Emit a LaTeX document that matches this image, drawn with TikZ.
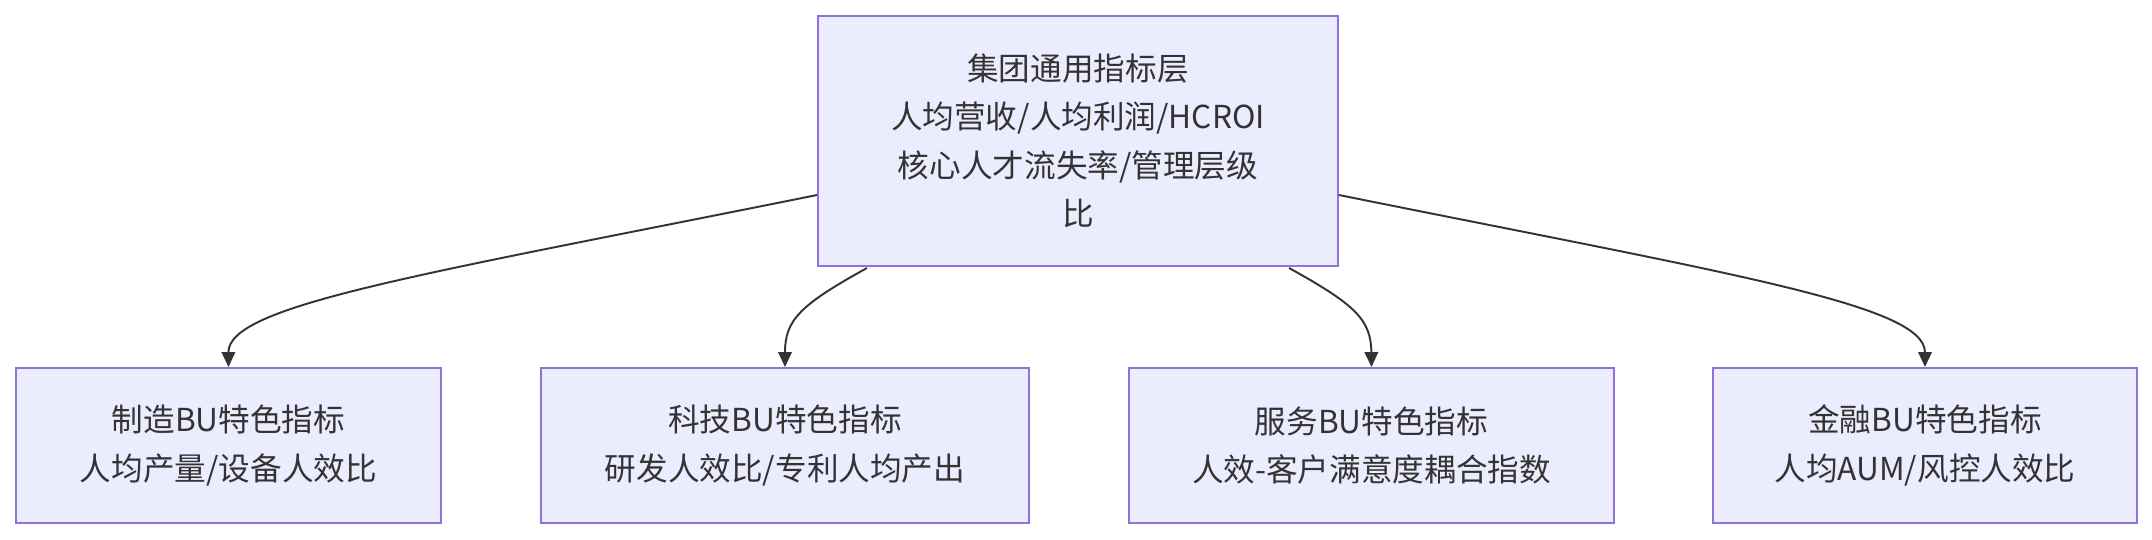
\documentclass[tikz,border=0pt]{standalone}
\usepackage{fontspec}
\setmainfont{Noto Sans CJK SC}
\usepackage{xcolor}
\usetikzlibrary{arrows.meta,positioning}
\definecolor{NodeFill}{HTML}{ECECFF}
\definecolor{NodeLine}{HTML}{9370DB}
\definecolor{InkGray}{HTML}{333333}
\begin{document}
\begin{tikzpicture}[x=0.02cm,y=-0.02cm,
    every node/.style={font=\fontsize{18}{27.6}\selectfont,text=InkGray},
    metric/.style={draw=NodeLine,line width=1.1pt,fill=NodeFill,align=center,inner sep=0pt,minimum height=3.1cm},
    link/.style={draw=InkGray,line width=1.1pt,-{Triangle[length=0.3cm,width=0.27cm]}}]
  \useasboundingbox (0,0) rectangle (2152,540);
  \node[metric,minimum width=10.4cm,minimum height=5cm] (G) at (1078,141) {集团通用指标层\\人均营收/人均利润/HCROI\\核心人才流失率/管理层级\\比};
  \node[metric,minimum width=8.5cm] (M) at (228.5,445.5) {制造BU特色指标\\人均产量/设备人效比};
  \node[metric,minimum width=9.76cm] (T) at (785,445.5) {科技BU特色指标\\研发人效比/专利人均产出};
  \node[metric,minimum width=9.7cm] (S) at (1371.5,445.5) {服务BU特色指标\\人效-客户满意度耦合指数};
  \node[metric,minimum width=8.48cm] (F) at (1925,445.5) {金融BU特色指标\\人均AUM/风控人效比};
  % curved links from the group layer down to each BU
  \draw[link] (G.west|-0,195) .. controls (420,275) and (228,305) .. (M.north);
  \draw[link] (867,268) .. controls (800,305) and (785,320) .. (T.north);
  \draw[link] (1289,268) .. controls (1356,305) and (1371,320) .. (S.north);
  \draw[link] (G.east|-0,195) .. controls (1736,275) and (1925,305) .. (F.north);
\end{tikzpicture}
\end{document}
